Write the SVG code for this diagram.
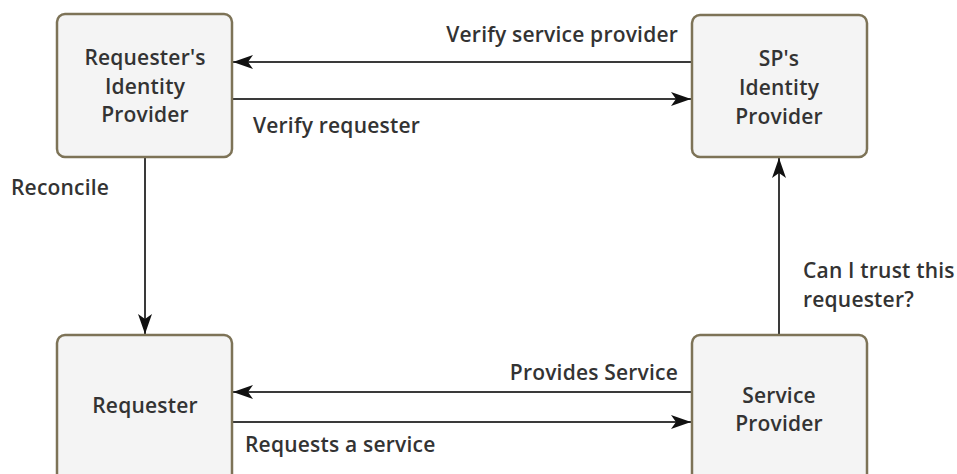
<svg xmlns="http://www.w3.org/2000/svg" width="957" height="474" viewBox="0 0 957 474">
<defs>
<style>
.box{fill:#f4f4f4;stroke:#7d7357;stroke-width:2.5}
.t{font-family:"Open Sans","Noto Sans",sans-serif;font-weight:600;font-size:21px;letter-spacing:0.2px;fill:#333}
.c{stroke:#3a3a3a;stroke-width:2;fill:none}
</style>
<marker id="ah" viewBox="0 0 20 14" refX="20" refY="7" markerWidth="20" markerHeight="14" markerUnits="userSpaceOnUse" orient="auto">
<path d="M0,0 L20,7 L0,14 L5,7 Z" fill="#111"/>
</marker>
</defs>
<rect width="957" height="474" fill="#fff"/>
<g id="connectors">
<line class="c" x1="692" y1="62" x2="233" y2="62" marker-end="url(#ah)"/>
<line class="c" x1="232" y1="99" x2="691" y2="99" marker-end="url(#ah)"/>
<line class="c" x1="692" y1="392" x2="233" y2="392" marker-end="url(#ah)"/>
<line class="c" x1="232" y1="422" x2="691" y2="422" marker-end="url(#ah)"/>
<line class="c" x1="145" y1="157" x2="145" y2="334" marker-end="url(#ah)"/>
<line class="c" x1="779" y1="335" x2="779" y2="158" marker-end="url(#ah)"/>
<text class="t" x="678" y="42" text-anchor="end">Verify service provider</text>
<text class="t" x="253" y="133">Verify requester</text>
<text class="t" x="11" y="195">Reconcile</text>
<text class="t" x="803" y="278">Can I trust this</text>
<text class="t" x="803" y="307">requester?</text>
<text class="t" x="678" y="380" text-anchor="end">Provides Service</text>
<text class="t" x="245" y="452">Requests a service</text>
</g>
<g id="rip">
<rect class="box" x="57" y="14" width="175" height="143" rx="8"/>
<text class="t" x="145" y="65" text-anchor="middle">Requester's</text>
<text class="t" x="145" y="94" text-anchor="middle">Identity</text>
<text class="t" x="145" y="122" text-anchor="middle">Provider</text>
</g>
<g id="spip">
<rect class="box" x="692" y="15" width="175" height="142" rx="8"/>
<text class="t" x="779" y="66" text-anchor="middle">SP's</text>
<text class="t" x="779" y="95" text-anchor="middle">Identity</text>
<text class="t" x="779" y="124" text-anchor="middle">Provider</text>
</g>
<g id="requester">
<rect class="box" x="57" y="335" width="175" height="160" rx="8"/>
<text class="t" x="145" y="413" text-anchor="middle">Requester</text>
</g>
<g id="sp">
<rect class="box" x="692" y="335" width="175" height="160" rx="8"/>
<text class="t" x="779" y="403" text-anchor="middle">Service</text>
<text class="t" x="779" y="431" text-anchor="middle">Provider</text>
</g>
</svg>
